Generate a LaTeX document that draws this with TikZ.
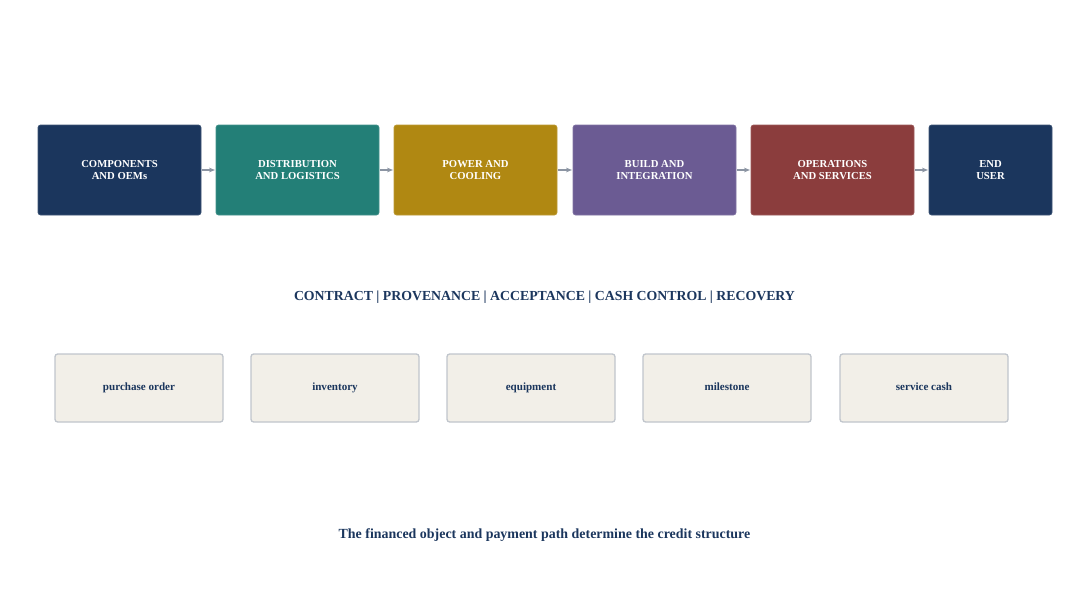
\documentclass[tikz,border=0pt]{standalone}
\usepackage{fontspec}
\setmainfont{Liberation Serif}
\definecolor{navy1}{RGB}{27, 54, 93}
\definecolor{teal1}{RGB}{35, 127, 119}
\definecolor{gold1}{RGB}{176, 136, 18}
\definecolor{purple1}{RGB}{107, 91, 147}
\definecolor{red1}{RGB}{139, 61, 61}
\definecolor{arrowgray}{RGB}{140, 149, 163}
\definecolor{paper}{RGB}{242, 239, 232}
\definecolor{edgegray}{RGB}{192, 197, 204}
\usepackage{tikz}
\usetikzlibrary{arrows.meta, positioning}

\begin{document}
\begin{tikzpicture}[x=0.75pt, y=-0.75pt,
  stage/.style={draw=#1!85!white, fill=#1, rounded corners=2pt, line width=0.6pt,
                minimum width=122.25pt, minimum height=67.5pt, inner sep=0pt,
                text=white, align=center, font=\fontsize{8}{9}\selectfont\bfseries},
  asset/.style={draw=edgegray, fill=paper, rounded corners=2pt, line width=1pt,
                minimum width=126pt, minimum height=51pt, inner sep=0pt,
                text height=5.5pt, text depth=1.5pt,
                text=navy1, font=\fontsize{8.3}{9}\selectfont\bfseries},
  flow/.style={-{Stealth[length=4.5pt, width=3.6pt]}, arrowgray, line width=1pt,
               shorten <=0.5pt, shorten >=0.5pt},
]
\useasboundingbox (0,0) rectangle (1089,610);

% Value chain on top
\node[stage=navy1] (comp) at (119.5, 170) {COMPONENTS\\AND OEMs};
\node[stage=teal1] (dist) at (297.5, 170) {DISTRIBUTION\\AND LOGISTICS};
\node[stage=gold1] (power) at (475.5, 170) {POWER AND\\COOLING};
\node[stage=purple1] (build) at (654.5, 170) {BUILD AND\\INTEGRATION};
\node[stage=red1] (ops) at (832.5, 170) {OPERATIONS\\AND SERVICES};
\node[stage=navy1, minimum width=92.25pt] (user) at (990.5, 170) {END\\USER};

% Arrows
\draw[flow] (comp) -- (dist);
\draw[flow] (dist) -- (power);
\draw[flow] (power) -- (build);
\draw[flow] (build) -- (ops);
\draw[flow] (ops) -- (user);

% Controls line
\node[text=navy1, font=\fontsize{10.35}{12}\selectfont\bfseries] (controls) at (544.5, 297)
     {CONTRACT | PROVENANCE | ACCEPTANCE | CASH CONTROL | RECOVERY};

% Financed objects
\node[asset] (po) at (139, 388) {purchase order};
\node[asset] (inv) at (335, 388) {inventory};
\node[asset] (equip) at (531, 388) {equipment};
\node[asset] (mile) at (727, 388) {milestone};
\node[asset] (cash) at (924, 388) {service cash};

% Caption
\node[text=navy1, font=\fontsize{10.45}{12}\selectfont\bfseries] (caption) at (544.5, 535)
     {The financed object and payment path determine the credit structure};
\end{tikzpicture}
\end{document}
